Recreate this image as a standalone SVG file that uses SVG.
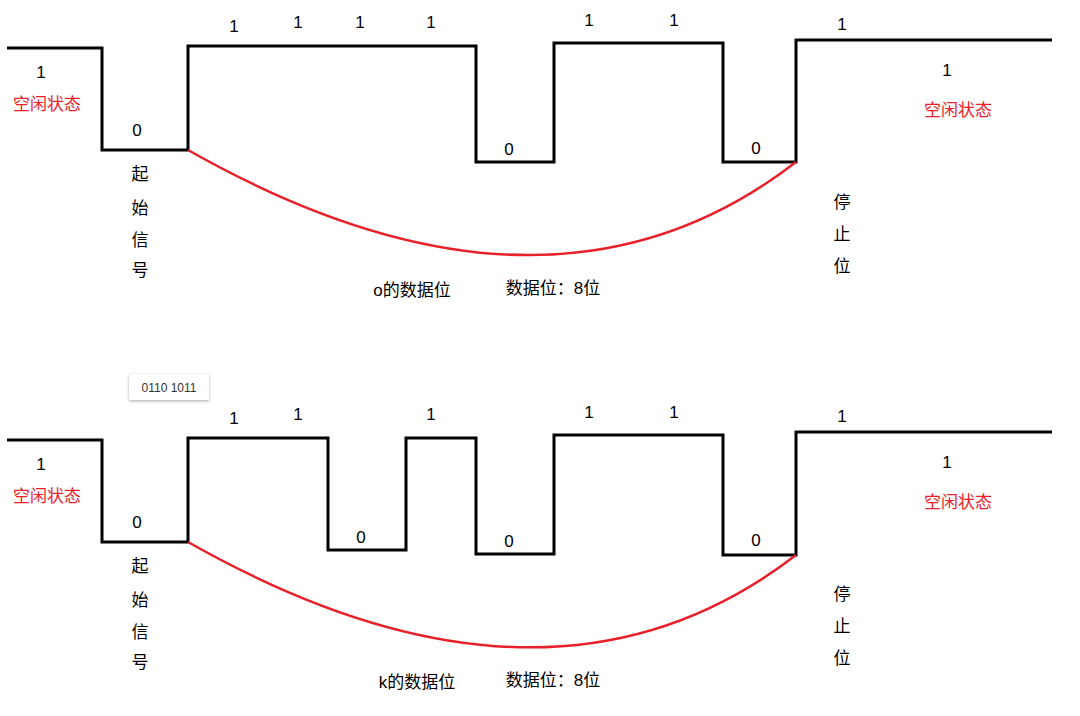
<svg xmlns="http://www.w3.org/2000/svg" width="1080" height="716" viewBox="0 0 1080 716">
<style>
.w{fill:none;stroke:#000;stroke-width:3}
.c{fill:none;stroke:#e8202a;stroke-width:2.5}
text{font-family:"Liberation Sans","Noto Sans CJK SC",sans-serif;font-size:17px;fill:#000;text-anchor:middle}
.r{fill:#e8202a}
.s{font-size:12px;fill:#333}
</style>
<defs><filter id="sh" x="-20%" y="-30%" width="140%" height="170%"><feDropShadow dx="0" dy="1" stdDeviation="1.5" flood-color="#000" flood-opacity="0.35"/></filter></defs>
<g id="connectors">
<path class="w" d="M7,48H102V150H188V46H476V162H554V43H723V162H796V40H1052"/>
<path class="c" d="M188,150Q548,354 796,162"/>
<path class="w" d="M7,440H102V542H188V438H328V550H406V438H476V554H554V435H723V555H796V432H1052"/>
<path class="c" d="M188,542Q548,746 796,555"/>
</g>
<g id="top-labels">
<text x="41" y="78">1</text><text x="47" y="110" class="r">空闲状态</text>
<text x="137" y="136">0</text>
<text x="234" y="32">1</text><text x="298" y="28">1</text><text x="360" y="28">1</text><text x="431" y="28">1</text>
<text x="509" y="155">0</text>
<text x="589" y="26">1</text><text x="674" y="26">1</text>
<text x="756" y="154">0</text>
<text x="842" y="30">1</text>
<text x="947" y="76">1</text><text x="958" y="116" class="r">空闲状态</text>
<text x="140" y="180">起</text><text x="140" y="214">始</text><text x="140" y="246">信</text><text x="140" y="276">号</text>
<text x="842" y="208">停</text><text x="842" y="240">止</text><text x="842" y="272">位</text>
<text x="412" y="296">o的数据位</text><text x="553" y="294">数据位：8位</text>
</g>
<g id="code-box">
<rect x="129" y="374" width="80" height="26" fill="#fff" filter="url(#sh)"/>
<text x="169" y="392" class="s">0110 1011</text>
</g>
<g id="bottom-labels">
<text x="41" y="470">1</text><text x="47" y="502" class="r">空闲状态</text>
<text x="137" y="528">0</text>
<text x="234" y="424">1</text><text x="298" y="420">1</text><text x="431" y="420">1</text>
<text x="361" y="543">0</text>
<text x="509" y="547">0</text>
<text x="589" y="418">1</text><text x="674" y="418">1</text>
<text x="756" y="546">0</text>
<text x="842" y="422">1</text>
<text x="947" y="468">1</text><text x="958" y="508" class="r">空闲状态</text>
<text x="140" y="572">起</text><text x="140" y="606">始</text><text x="140" y="638">信</text><text x="140" y="668">号</text>
<text x="842" y="600">停</text><text x="842" y="632">止</text><text x="842" y="664">位</text>
<text x="417" y="688">k的数据位</text><text x="553" y="686">数据位：8位</text>
</g>
</svg>
